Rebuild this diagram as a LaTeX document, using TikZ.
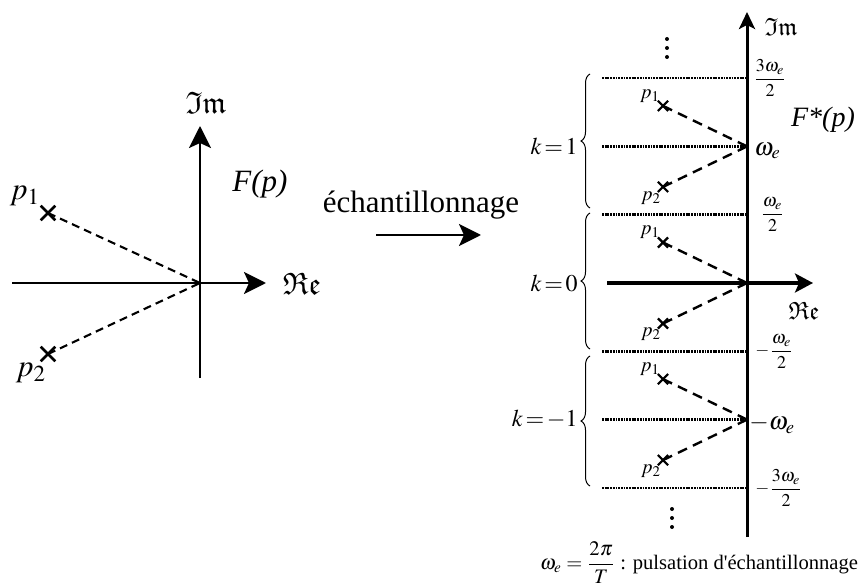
\documentclass[tikz,border=0pt]{standalone}
\usepackage{amsmath}
\usepackage{mathptmx}
\usepackage{amssymb}
\usepackage[no-math]{fontspec}
\setmainfont{Liberation Serif}
\usetikzlibrary{arrows.meta,decorations.pathreplacing,shapes.misc}
\tikzset{
  bigtxt/.style={font=\fontsize{15.5}{18}\selectfont, inner sep=0pt},
  midtxt/.style={font=\fontsize{12.5}{14}\selectfont, inner sep=0pt},
  ftxt/.style={font=\fontsize{14}{16}\selectfont, inner sep=0pt},
  ktxt/.style={font=\fontsize{12}{14}\selectfont, inner sep=0pt},
  smalltxt/.style={font=\fontsize{10}{12}\selectfont, inner sep=0pt},
  fractxt/.style={font=\fontsize{9}{11}\selectfont, inner sep=0pt},
  deftxt/.style={font=\fontsize{10.3}{12}\selectfont, inner sep=0pt},
  bigaxis/.style={line width=1.3pt, -{Stealth[length=11pt,width=11pt,inset=2.5pt]}},
  smallaxis/.style={line width=1.5pt, -{Stealth[length=8.5pt,width=8pt,inset=2pt]}},
  bigcross/.style={draw, cross out, minimum size=6pt, inner sep=0pt, line width=1.3pt},
  smallcross/.style={draw, cross out, minimum size=4pt, inner sep=0pt, line width=1.1pt},
  bigdash/.style={line width=1.05pt, dash pattern=on 4pt off 2.6pt},
  smalldash/.style={line width=1.2pt, dash pattern=on 5pt off 3.3pt},
  dotline/.style={line width=1.4pt, dash pattern=on 0.9pt off 0.45pt},
  dotmark/.style={fill, circle, inner sep=0pt, minimum size=2pt},
  bracestyle/.style={decorate, decoration={brace, amplitude=4.5pt}, line width=0.5pt}
}
\begin{document}
\begin{tikzpicture}[x=0.5pt,y=-0.5pt]
\useasboundingbox (0,0) rectangle (860,587);

% ---------- left plane ----------
\coordinate (O) at (200,283);
\coordinate (lyb) at (200,378);
\coordinate (lyt) at (200,126);
\coordinate (lxl) at (12,283);
\coordinate (lxr) at (266,283);
\draw[bigaxis] (lyb) -- (lyt);
\draw[bigaxis] (lxl) -- (lxr);
\node[bigtxt] (lim) at (206,103) {$\mathfrak{Im}$};
\node[bigtxt] (lre) at (302,284) {$\mathfrak{Re}$};
\node[bigtxt] (lF) at (260,184) {\textit{F(p)}};
\node[bigcross] (lp1) at (48,213) {};
\node[bigcross] (lp2) at (48,354) {};
\draw[bigdash] (lp1.center) -- (O);
\draw[bigdash] (lp2.center) -- (O);
\node[bigtxt] (llp1) at (25,196) {$p_1$};
\node[bigtxt] (llp2) at (31,373) {$p_2$};

% ---------- sampling arrow ----------
\node[bigtxt] (ech) at (421,205) {échantillonnage};
\coordinate (ea) at (376,235);
\coordinate (eb) at (481,235);
\draw[line width=1.3pt, -{Stealth[length=11pt,width=11pt,inset=2.5pt]}] (ea) -- (eb);

% ---------- right plane ----------
\foreach \y in {78.1,146.4,214.7,351.3,419.6,487.9}
  \draw[dotline] (602,\y) -- (747,\y);

\coordinate (ryb) at (747,537);
\coordinate (ryt) at (747,12);
\coordinate (rxl) at (607,283);
\coordinate (rxr) at (813,283);
\draw[smallaxis] (ryb) -- (ryt);
\draw[line width=1.5pt, -{Stealth[length=9pt,width=9.5pt,inset=2pt]}] (rxl) -- (rxr);
\node[midtxt] (rim) at (781,27) {$\mathfrak{Im}$};
\node[midtxt] (rre) at (804,311) {$\mathfrak{Re}$};
\node[ftxt] (rF) at (823,120) {\textit{F*(p)}};

\foreach \n/\c/\kk/\bt/\bb in {A/146.4/1/74/208, B/283/0/213/349, C/419.6/-1/356/486}{
  \coordinate (o\n) at (747,\c);
  \node[smallcross] (p1\n) at (663,\c-40.5) {};
  \node[smallcross] (p2\n) at (663,\c+40.5) {};
  \draw[smalldash] (p1\n.center) -- (o\n);
  \draw[smalldash] (p2\n.center) -- (o\n);
  \node[smalltxt] (q1\n) at (650,\c-50.5) {$p_1$};
  \node[smalltxt] (q2\n) at (651,\c+51.5) {$p_2$};
  \draw[bracestyle] (590,\bb) -- (590,\bt);
  \node[ktxt, anchor=east] (k\n) at (578,\c) {$k\!=\!\kk$};
}

\node[fractxt, anchor=west] (f3p) at (753,78.1) {$\dfrac{3\omega_e}{2}$};
\node[midtxt, anchor=west] (wep) at (754,151) {$\omega_e$};
\node[fractxt, anchor=west] (f1p) at (760,214.7) {$\dfrac{\omega_e}{2}$};
\node[fractxt, anchor=west] (f1m) at (755,351.3) {$-\dfrac{\omega_e}{2}$};
\node[midtxt, anchor=west] (wem) at (749,424) {$-\omega_e$};
\node[fractxt, anchor=west] (f3m) at (755,487.9) {$-\dfrac{3\omega_e}{2}$};

% vertical ellipses
\foreach \yy in {39,48,57} \node[dotmark] (da\yy) at (667,\yy) {};
\foreach \yy in {509,518,527} \node[dotmark] (db\yy) at (672,\yy) {};

\node[deftxt] (def) at (699,563) {$\omega_e=\dfrac{2\pi}{T}$ : pulsation d\textquotesingle échantillonnage};
\end{tikzpicture}
\end{document}
